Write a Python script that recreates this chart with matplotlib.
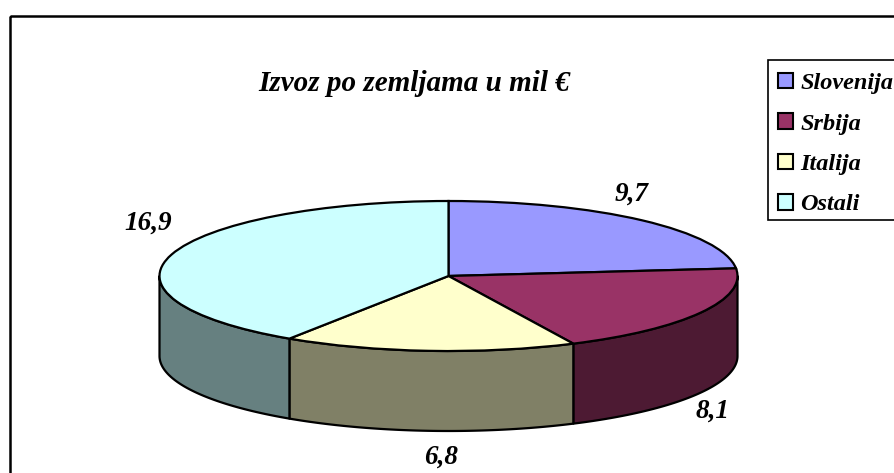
import numpy as np
import matplotlib
matplotlib.use("Agg")
import matplotlib.pyplot as plt
from matplotlib.patches import Patch, Rectangle
from matplotlib.transforms import Affine2D

W, H = 895, 473
categories = ["Slovenija", "Srbija", "Italija", "Ostali"]
values = [9.7, 8.1, 6.8, 16.9]
value_labels = ["9,7", "8,1", "6,8", "16,9"]
top_colors = ["#9999FF", "#993366", "#FFFFCC", "#CCFFFF"]
side_colors = ["#4D4D80", "#4D1A33", "#808066", "#668080"]
title_text = "Izvoz po zemljama u mil €"
label_px = [(632, 194), (713, 411), (441, 457), (148, 223)]

plt.rcParams["font.family"] = "Liberation Serif"
plt.rcParams["font.weight"] = "bold"
plt.rcParams["font.style"] = "italic"

fig = plt.figure(figsize=(W / 100, H / 100), dpi=100, facecolor="white")
ax = fig.add_axes([0, 0, 1, 1])
px = Affine2D().scale(1, -1).translate(0, H)

CX, CY, RX, RY, DEPTH = 448.5, 276, 289, 75, 80
LW = 1.6

# frame of the chart area
fig.add_artist(Rectangle((9.5, 15.5), W, H, transform=px, fill=False, ec="black", lw=1.8))
# legend box
fig.add_artist(Rectangle((768, 59.5), W, 160, transform=px, fc="white", ec="black", lw=1.2))

ax.pie(values, colors=top_colors, startangle=90, counterclock=False, radius=1,
       wedgeprops=dict(edgecolor="black", linewidth=LW, zorder=3))
ax.set_aspect("auto")
ax.set_xlim(-CX / RX, (W - CX) / RX)
ax.set_ylim((CY - H) / RY, CY / RY)
ax.patch.set_alpha(0)

# side wall of the disc, front half only
depth = DEPTH / RY
edges = np.concatenate([[0], np.cumsum(values)]) / np.sum(values) * 360
for start, end, color in zip(edges[:-1], edges[1:], side_colors):
    a, b = max(start, 90), min(end, 270)
    if b <= a:
        continue
    th = np.radians(np.linspace(a, b, 120))
    xs, ys = np.sin(th), np.cos(th)
    ax.fill(np.r_[xs, xs[::-1]], np.r_[ys, ys[::-1] - depth],
            facecolor=color, edgecolor="black", lw=LW, zorder=1, joinstyle="round")

fig.text(414, 83, title_text, transform=px, fontsize=21, ha="center", va="center")
for (x, y), s in zip(label_px, value_labels):
    fig.text(x, y, s, transform=px, fontsize=19.5, ha="center", va="center")

handles = [Patch(facecolor=c, edgecolor="black", lw=1.5) for c in top_colors]
leg = fig.legend(handles, categories, loc="upper left",
                 bbox_to_anchor=(769 / W, 1 - 64 / H), fontsize=17.5,
                 frameon=False,
                 borderpad=0.36, borderaxespad=0, handlelength=0.62, handleheight=0.62,
                 handletextpad=0.3, labelspacing=0.78)

fig.savefig("out.png", dpi=100)
